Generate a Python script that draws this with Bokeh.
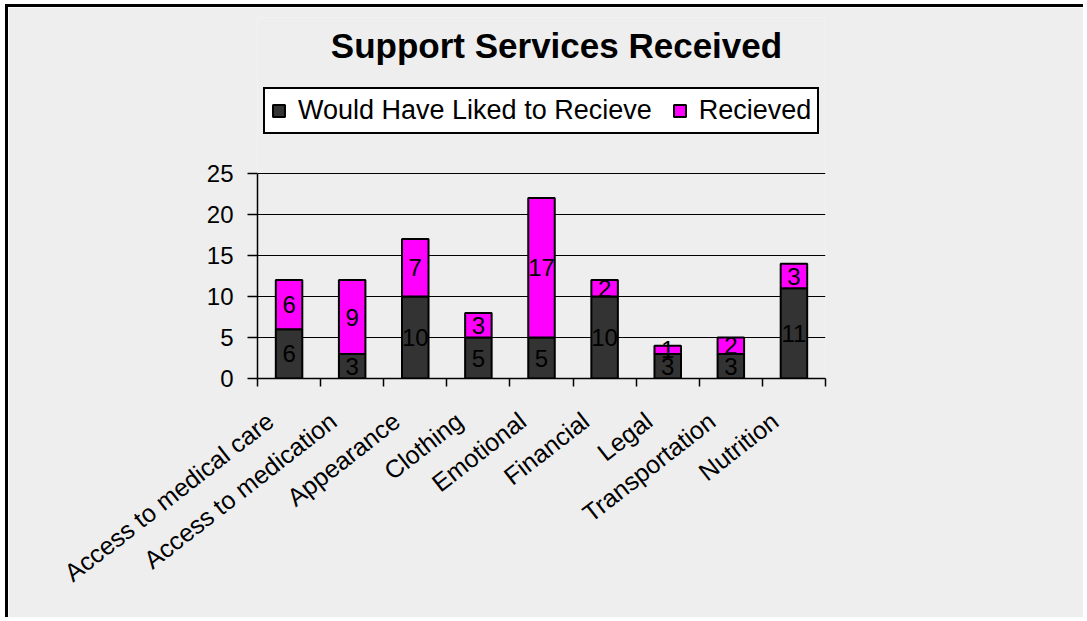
import math
from bokeh.plotting import figure
from bokeh.models import (Range1d, FixedTicker, CustomJSTickFormatter,
                          ColumnDataSource, LabelSet, Label)
from bokeh.core.properties import value
from bokeh.embed import file_html
from bokeh.resources import INLINE

# ---------------- data ----------------
title_text = "Support Services Received"
categories = ["Access to medical care", "Access to medication", "Appearance",
              "Clothing", "Emotional", "Financial", "Legal",
              "Transportation", "Nutrition"]
would_like = [6, 3, 10, 5, 5, 10, 3, 3, 11]
received = [6, 9, 7, 3, 17, 2, 1, 2, 3]
series_names = ["Would Have Liked to Recieve", "Recieved"]
y_ticks = [0, 5, 10, 15, 20, 25]

# ---------------- style / layout ----------------
FONT = "Liberation Sans"
BG = "#EEEEEE"
COLORS = ["#333333", "#FF00FF"]

PLOT_H = 205          # pixel height of the 0..25 value axis
FRAME_H = 361         # frame also holds title and legend above the axis
y_end = y_ticks[-1] * FRAME_H / PLOT_H

n = len(categories)
xs = [i + 0.5 for i in range(n)]
src = ColumnDataSource(dict(x=xs, would=would_like, rec=received))

p = figure(width=1078, height=613,
           x_range=Range1d(0, n), y_range=Range1d(y_ticks[0], y_end),
           output_backend="svg", toolbar_location=None,
           min_border_left=249, min_border_right=261,
           min_border_top=10, min_border_bottom=242,
           background_fill_color=BG, border_fill_color=BG,
           outline_line_color=None)
p.styles = {"margin-left": "5px", "margin-top": "4px",
            "border-left": "3px solid #000000",
            "border-top": "3px solid #000000"}

rs = p.vbar_stack(["would", "rec"], x="x", width=0.42, source=src,
                  fill_color=COLORS, line_color="black", line_width=2,
                  legend_label=series_names)

# value labels
lab_x = xs + xs
lab_y = [w / 2 for w in would_like] + [w + r / 2 for w, r in zip(would_like, received)]
lab_t = [str(v) for v in would_like] + [str(v) for v in received]
lsrc = ColumnDataSource(dict(x=lab_x, y=lab_y, t=lab_t))
p.add_layout(LabelSet(x="x", y="y", text="t", source=lsrc,
                      text_align="center", text_baseline="middle",
                      text_font=value(FONT), text_font_size=value("24px"),
                      text_color="black"))

# grid
p.xgrid.visible = False
p.ygrid.ticker = FixedTicker(ticks=y_ticks)
p.ygrid.grid_line_color = "black"
p.ygrid.grid_line_width = 1

# y axis
yax = p.yaxis[0]
yax.ticker = FixedTicker(ticks=y_ticks)
yax.bounds = (y_ticks[0], y_ticks[-1])
yax.axis_line_color = "black"
yax.axis_line_width = 1.5
yax.major_tick_line_color = "black"
yax.major_tick_line_width = 1.5
yax.major_tick_out = 10
yax.major_tick_in = 0
yax.minor_tick_line_color = None
yax.major_label_standoff = 14
yax.major_label_text_font = FONT
yax.major_label_text_font_size = "24px"
yax.major_label_text_color = "black"

# x axis: ticks at category boundaries, labels near category centres
xax = p.xaxis[0]
xax.ticker = FixedTicker(ticks=[i + 0.5 - 0.3 for i in range(n)],
                         minor_ticks=list(range(n + 1)))
xax.formatter = CustomJSTickFormatter(args=dict(labels=categories),
                                      code="return labels[Math.floor(tick)];")
xax.axis_line_color = "black"
xax.axis_line_width = 1.5
xax.major_tick_line_color = None
xax.major_tick_out = 0
xax.major_tick_in = 0
xax.minor_tick_line_color = "black"
xax.minor_tick_line_width = 1.5
xax.minor_tick_out = 8
xax.minor_tick_in = 0
xax.major_label_orientation = math.radians(38)
xax.major_label_standoff = 31
xax.major_label_text_font = FONT
xax.major_label_text_font_size = "25px"
xax.major_label_text_color = "black"

# title (screen units from the frame's bottom-left)
p.add_layout(Label(x=299, y=333, x_units="screen", y_units="screen",
                   text=title_text, text_align="center",
                   text_baseline="alphabetic", text_font=FONT,
                   text_font_size="35px", text_font_style="bold",
                   text_color="black"))

# legend
lg = p.legend[0]
lg.location = (6, 244)
lg.orientation = "horizontal"
lg.background_fill_color = "white"
lg.background_fill_alpha = 1
lg.border_line_color = "black"
lg.border_line_alpha = 1
lg.border_line_width = 2
lg.padding = 6
lg.spacing = 20
lg.label_standoff = 12
lg.glyph_width = 15
lg.glyph_height = 15
lg.label_text_font = FONT
lg.label_text_font_size = "27px"
lg.label_text_color = "black"
lg.margin = 0

open("out.html", "w").write(file_html(p, INLINE))
